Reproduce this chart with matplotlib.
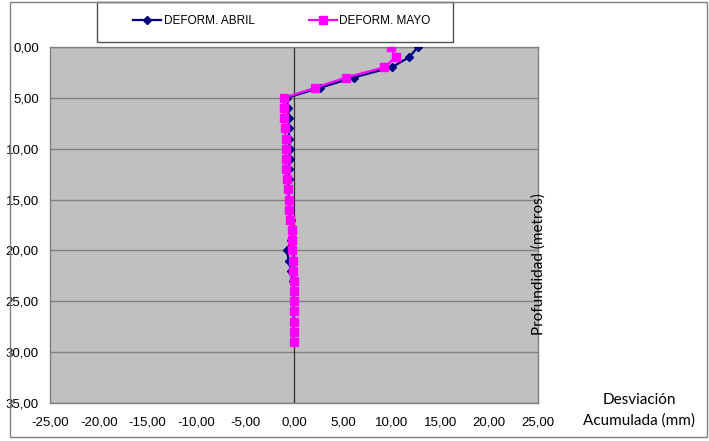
import matplotlib
matplotlib.use("Agg")
import matplotlib.pyplot as plt
from matplotlib.patches import Rectangle
from matplotlib.ticker import FixedLocator, FuncFormatter

# depth in metres and accumulated deviation in mm
depth = list(range(30))
abril = [12.7, 11.8, 10.0, 6.1, 2.7, -0.75, -0.6, -0.55, -0.55, -0.5,
         -0.45, -0.45, -0.5, -0.55, -0.6, -0.5, -0.45, -0.35, -0.2, -0.3,
         -0.7, -0.55, -0.3, -0.1, -0.05, -0.05, -0.05, -0.05, -0.05, -0.05]
mayo = [9.9, 10.4, 9.25, 5.3, 2.2, -1.05, -1.0, -1.0, -0.95, -0.85,
        -0.85, -0.8, -0.8, -0.75, -0.65, -0.55, -0.5, -0.45, -0.2, -0.2,
        -0.2, -0.1, -0.1, -0.05, -0.05, -0.05, -0.05, -0.05, -0.05, -0.05]
x_ticks = list(range(-25, 26, 5))
y_ticks = list(range(0, 36, 5))

W, H = 709, 441
plt.rcParams["font.family"] = ["Liberation Sans", "DejaVu Sans"]

fig = plt.figure(figsize=(W / 100, H / 100), dpi=100)
ax = fig.add_axes([50 / W, 1 - 403 / H, 488 / W, 356 / H])
ax.set_facecolor("#c0c0c0")

ax.plot(abril, depth, color="#000080", lw=1.6, marker="D", markersize=4.5,
        label="DEFORM. ABRIL", zorder=3)
ax.plot(mayo, depth, color="#ff00ff", lw=1.6, marker="s", markersize=5.5,
        label="DEFORM. MAYO", zorder=4)

ax.set_xlim(-25, 25)
ax.set_ylim(35, 0)
ax.xaxis.set_major_locator(FixedLocator(x_ticks))
ax.yaxis.set_major_locator(FixedLocator(y_ticks))
fmt = FuncFormatter(lambda v, p: f"{v:.2f}".replace(".", ","))
ax.xaxis.set_major_formatter(fmt)
ax.yaxis.set_major_formatter(fmt)
ax.tick_params(axis="both", length=0, labelsize=9.5, colors="black")
ax.tick_params(axis="x", pad=10)
ax.tick_params(axis="y", pad=8)
ax.grid(axis="y", color="#808080", lw=1)
ax.set_axisbelow(True)
ax.axvline(0, color="#303030", lw=0.9, zorder=2)
for s in ax.spines.values():
    s.set_color("#808080")
    s.set_linewidth(1)

leg = fig.legend(loc="center left", bbox_to_anchor=(127 / W, 1 - 21 / H),
                 ncol=2, frameon=False, fontsize=8.5, borderpad=0,
                 handlelength=2.4, handletextpad=0.2, columnspacing=4.6)

# legend box and chart border
fig.patches.append(Rectangle((97 / W, 1 - 42 / H), 356 / W, 40 / H,
                             transform=fig.transFigure, fill=False,
                             edgecolor="#505050", lw=1))
fig.patches.append(Rectangle((9.5 / W, 1 - 437 / H), 697 / W, 435 / H,
                             transform=fig.transFigure, fill=False,
                             edgecolor="#808080", lw=1))

fig.text(539 / W, 1 - 264 / H, "Profundidad (metros)", rotation=90,
         ha="center", va="center", fontsize=11, family=["Lato", "DejaVu Sans"])
fig.text(639 / W, 1 - 410 / H, "Desviación\nAcumulada (mm)", ha="center",
         va="center", fontsize=11, linespacing=1.55,
         family=["Lato", "DejaVu Sans"])

fig.savefig("out.png", dpi=100)
